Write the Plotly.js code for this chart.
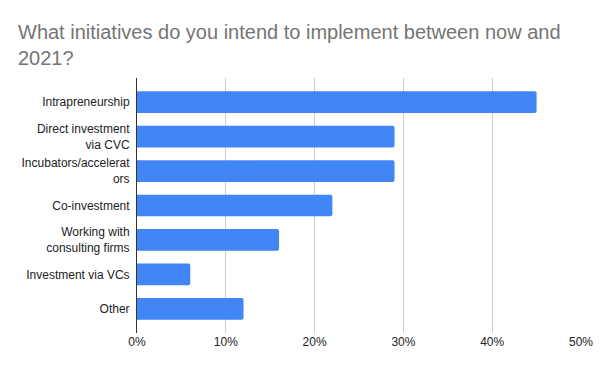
<!DOCTYPE html>
<html>
<head>
<meta charset="utf-8">
<script src="https://cdn.plot.ly/plotly-3.0.1.min.js"></script>
<style>html,body{margin:0;padding:0;background:#fff}#chart{width:600px;height:371px}</style>
</head>
<body>
<div id="chart"></div>
<script>
const categories = [
  "Intrapreneurship",
  "Direct investment<br>via CVC",
  "Incubators/accelerat<br>ors",
  "Co-investment",
  "Working with<br>consulting firms",
  "Investment via VCs",
  "Other"
];
const values = [0.45, 0.29, 0.29, 0.22, 0.16, 0.06, 0.12];
const xTickVals = [0, 0.1, 0.2, 0.3, 0.4, 0.5];
const xTickText = ["0%", "10%", "20%", "30%", "40%", "50%"];

const font = "Liberation Sans, Arial, sans-serif";

Plotly.newPlot("chart", [{
  type: "bar",
  orientation: "h",
  y: categories,
  x: values,
  marker: {color: "#4285F4", cornerradius: 2},
  hoverinfo: "x+y"
}], {
  width: 600, height: 371,
  margin: {l: 137, r: 19, t: 78, b: 38, pad: 0},
  paper_bgcolor: "#fff", plot_bgcolor: "#fff",
  bargap: 0.37,
  font: {family: font, size: 12, color: "#222"},
  title: {
    text: "What initiatives do you intend to implement between now and<br>2021?",
    font: {family: font, size: 20, color: "#757575"},
    x: 18/600, xanchor: "left", xref: "container",
    y: 1 - 39/371, yanchor: "top", yref: "container"
  },
  xaxis: {
    range: [0, 0.5],
    tickvals: xTickVals, ticktext: xTickText,
    showgrid: true, gridcolor: "#cccccc", gridwidth: 1,
    zeroline: false, showline: false, ticks: "",
    tickfont: {family: font, size: 12, color: "#222"},
    fixedrange: true
  },
  yaxis: {
    type: "category",
    categoryorder: "array", categoryarray: categories,
    range: [6.7, -0.7],
    showgrid: false, zeroline: false,
    showline: true, linecolor: "#333", linewidth: 1,
    ticks: "", ticklabelstandoff: 4,
    tickfont: {family: font, size: 12, color: "#222"},
    fixedrange: true
  },
  showlegend: false
}, {displayModeBar: false, staticPlot: true});
</script>
</body>
</html>
